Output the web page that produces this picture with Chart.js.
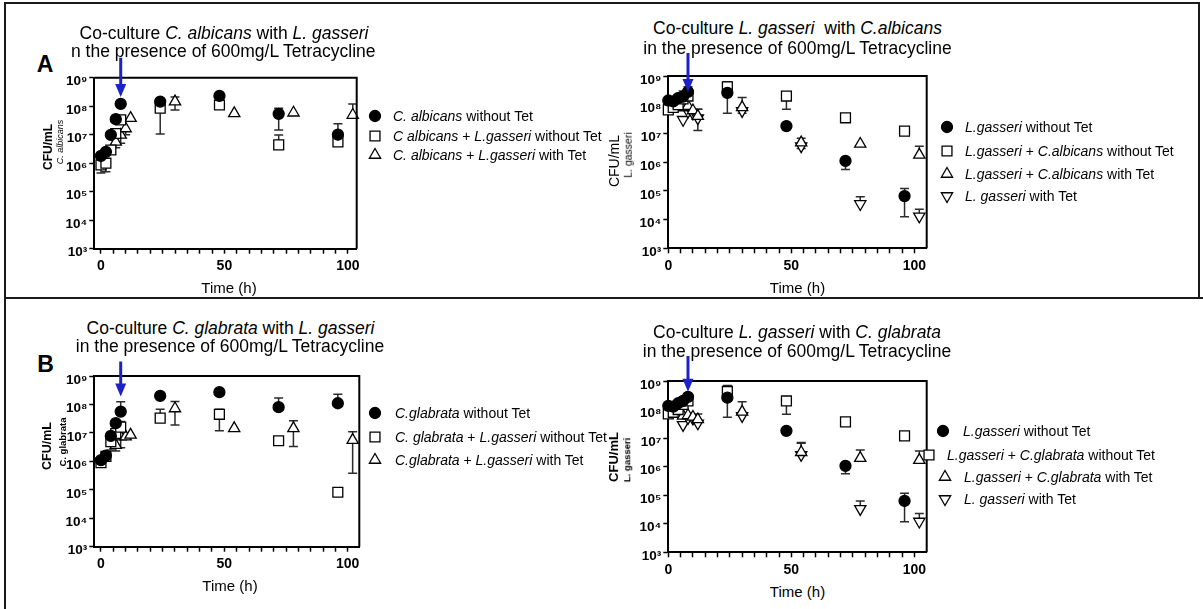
<!DOCTYPE html>
<html>
<head>
<meta charset="utf-8">
<script src="https://cdn.jsdelivr.net/npm/chart.js@4.4.1/dist/chart.umd.min.js"></script>
<style>
  body { margin: 0; background: #fff; }
  #fig { position: relative; width: 1203px; height: 609px; overflow: hidden; font-family: "Liberation Sans", Arial, sans-serif; color: #000; }
  .t { position: absolute; white-space: nowrap; line-height: 1; }
  canvas { position: absolute; }
  .rule { position: absolute; background: #1a1a1a; }
</style>
</head>
<body>
<div id="fig"></div>
<script>
// sampling times (h)
const timeNoTet = [0, 2, 4, 6, 8, 24, 48, 72, 96]
const timeTet = [6, 8, 10, 12, 30, 54, 78, 102]

// A, left: C. albicans counts
const albNoTet = [1.8e6, 2.5e6, 9.8e6, 3.5e7, 1.2e8, 1.45e8, 2.3e8, 5.4e7, 1.0e7]
const albNoTetHi = [null, null, null, null, null, null, null, 8.5e7, 2.4e7]
const albNoTetLo = [null, null, null, null, null, null, null, 1.45e7, null]
const albLgNoTet = [8.7e5, 1.0e6, 2.9e6, 1.1e7, 3.3e7, 8.5e7, 1.1e8, 4.4e6, 5.6e6]
const albLgNoTetHi = [null, null, null, null, null, null, null, 9.8e6, null]
const albLgNoTetLo = [4.5e5, 5e5, null, null, null, 1.05e7, null, null, null]
const albLgTet = [5.6e6, 9.8e6, 1.65e7, 3.8e7, 1.45e8, 5.6e7, 5.9e7, 4.9e7]
const albLgTetHi = [null, null, null, null, 2.1e8, null, null, 1.2e8]
const albLgTetLo = [3.5e6, 5e6, 1e7, null, 7.4e7, null, null, null]

// A, right: L. gasseri counts
const lgaNoTet = [1.4e8, 1.3e8, 1.7e8, 1.9e8, 2.8e8, 2.6e8, 1.8e7, 1.1e6, 6.6e4]
const lgaNoTetHi = [null, null, null, null, 4.2e8, null, null, null, 1.2e5]
const lgaNoTetLo = [null, null, null, null, null, 5e7, null, 5.6e5, 1.25e4]
const lgCaNoTet = [6.6e7, 8e7, 1e8, 1.6e8, 2e8, 4.2e8, 2e8, 3.5e7, 1.2e7]
const lgCaNoTetHi = [null, null, null, 3e8, null, 6.3e8, null, null, null]
const lgCaNoTetLo = [null, null, null, null, null, null, 7e7, null, null]
const lgCaTet = [8e7, 9e7, 6.3e7, 4e7, 8.1e7, 4.8e6, 4.3e6, 1.8e6]
const lgCaTetHi = [null, null, null, 7e7, 1.8e8, 6.8e6, null, 3.6e6]
const lgCaTetLo = [null, null, null, null, null, null, null, null]
const lgaTet = [3e7, 5.8e7, 5e7, 3.4e7, 6.1e7, 3.6e6, 3.5e4, 1.3e4]
const lgaTetHi = [null, null, null, 7e7, null, null, 6.3e4, 2.3e4]
const lgaTetLo = [null, null, null, 1.26e7, 5e7, 3e6, null, null]

// B, left: C. glabrata counts
const glaNoTet = [1.1e6, 1.6e6, 7.8e6, 2.2e7, 5.6e7, 2e8, 2.7e8, 8e7, 1.1e8]
const glaNoTetHi = [null, null, null, null, 1.25e8, null, null, 1.7e8, 2.3e8]
const glaNoTetLo = [null, null, null, null, null, null, null, null, null]
const glaLgNoTet = [9e5, 1.5e6, 4.9e6, 9.5e6, 1.6e7, 3.3e7, 4.5e7, 5.3e6, 8.2e4]
const glaLgNoTetHi = [null, null, null, null, 2.5e7, 6.8e7, 6.8e7, null, null]
const glaLgNoTetLo = [null, null, 2.5e6, null, null, null, 1.2e7, null, null]
const glaLgTet = [3.7e6, 7.4e6, 7.4e6, 8.5e6, 7.2e7, 1.45e7, 1.45e7, 5.6e6]
const glaLgTetHi = [null, null, null, null, 1.26e8, null, 2.7e7, 1.1e7]
const glaLgTetLo = [2.3e6, 3e6, null, null, 1.9e7, null, 3.3e6, 3.8e5]

// B, right: L. gasseri counts
const lgbNoTet = [1.35e8, 1.26e8, 1.66e8, 2e8, 2.8e8, 2.6e8, 1.8e7, 1.07e6, 6.3e4]
const lgbNoTetHi = [null, null, null, null, null, null, null, null, 1.17e5]
const lgbNoTetLo = [null, null, null, null, null, 5.4e7, null, 5.6e5, 1.17e4]
const lgCgNoTet = [7e7, 8e7, 1e8, 1.5e8, 2e8, 4.3e8, 2e8, 3.7e7, 1.2e7]
const lgCgNoTetHi = [null, null, null, null, null, 6.9e8, null, null, null]
const lgCgNoTetLo = [null, null, null, null, null, null, 6.8e7, null, null]
const lgCgTet = [6e7, 6.3e7, 5.5e7, 4.5e7, 8.3e7, 3.2e6, 2e6, 1.7e6]
const lgCgTetHi = [null, null, null, 7e7, 1.86e8, 6.6e6, 3.8e6, 3.5e6]
const lgCgTetLo = [null, null, null, null, null, null, null, null]
const lgbTet = [2.9e7, 5.1e7, 4.9e7, 3.3e7, 6e7, 2.6e6, 3.3e4, 1.2e4]
const lgbTetHi = [null, null, null, null, null, 7e6, 6.3e4, 2.3e4]
const lgbTetLo = [null, null, null, null, null, null, null, null]

// axes
const xTickVals = [0, 5, 10, 15, 20, 25, 30, 35, 40, 45, 50, 55, 60, 65, 70, 75, 80, 85, 90, 95, 100]
const xLabelVals = [0, 50, 100]
const yTickVals = [1e3, 1e4, 1e5, 1e6, 1e7, 1e8, 1e9]
const sup = ["⁰", "¹", "²", "³", "⁴", "⁵", "⁶", "⁷", "⁸", "⁹"]

// legend text
const legendA1 = ["<i>C. albicans</i> without Tet", "<i>C albicans</i> + <i>L.gasseri</i> without Tet", "<i>C. albicans</i> + <i>L.gasseri</i> with Tet"]
const legendA2 = ["<i>L.gasseri</i> without Tet", "<i>L.gasseri</i> + <i>C.albicans</i> without Tet", "<i>L.gasseri</i> + <i>C.albicans</i> with Tet", "<i>L. gasseri</i> with Tet"]
const legendB1 = ["<i>C.glabrata</i> without Tet", "<i>C. glabrata</i> + <i>L.gasseri</i> without Tet", "<i>C.glabrata</i> + <i>L.gasseri</i> with Tet"]
const legendB2 = ["<i>L.gasseri</i> without Tet", "<i>L.gasseri</i> + <i>C.glabrata</i> without Tet", "<i>L.gasseri</i> + <i>C.glabrata</i> with Tet", "<i>L. gasseri</i> with Tet"]

const marks = {
    dot: { pointStyle: "circle", radius: 5.5, rotation: 0, fill: "#000" },
    box: { pointStyle: "rect", radius: 7, rotation: 0, fill: "#fff" },
    tri: { pointStyle: "triangle", radius: 6.5, rotation: 0, fill: "#fff" },
    inv: { pointStyle: "triangle", radius: 6.5, rotation: 180, fill: "#fff" }
}

const panels = [
    {
        area: { l: 94.3, t: 77.7, r: 356.7, b: 248.7 }, box: { x: 50, y: 40, w: 325, h: 240 },
        xMin: -2.7, xMax: 103.6, arrow: { at: 8, tip: 2.1e8, rise: 20 },
        series: [
            { times: timeNoTet, values: albNoTet, hi: albNoTetHi, lo: albNoTetLo, mark: "dot" },
            { times: timeNoTet, values: albLgNoTet, hi: albLgNoTetHi, lo: albLgNoTetLo, mark: "box" },
            { times: timeTet, values: albLgTet, hi: albLgTetHi, lo: albLgTetLo, mark: "tri" }
        ],
        legend: { labels: legendA1, rows: [116, 136, 155], markX: [375, 375, 375], textX: [393, 393, 393] },
        titles: [
            { html: "Co-culture <i>C. albicans</i> with <i>L. gasseri</i>", x: 224, y: 34 },
            { html: "n the presence of 600mg/L Tetracycline", x: 71, y: 52, left: true }
        ],
        yTitle: { main: "CFU/mL", mainCss: "font-weight:bold;font-size:12px", x: 48, y: 147, sub: "<i>C. albicans</i>", subCss: "font-size:9px", sx: 60, sy: 142 },
        xTitle: { x: 229, y: 287 }
    },
    {
        area: { l: 668.3, t: 76, r: 926.7, b: 248.3 }, box: { x: 624, y: 40, w: 325, h: 240 },
        xMin: 0, xMax: 105, arrow: { at: 8, tip: 2.8e8, rise: 23 },
        series: [
            { times: timeNoTet, values: lgaNoTet, hi: lgaNoTetHi, lo: lgaNoTetLo, mark: "dot" },
            { times: timeNoTet, values: lgCaNoTet, hi: lgCaNoTetHi, lo: lgCaNoTetLo, mark: "box" },
            { times: timeTet, values: lgCaTet, hi: lgCaTetHi, lo: lgCaTetLo, mark: "tri" },
            { times: timeTet, values: lgaTet, hi: lgaTetHi, lo: lgaTetLo, mark: "inv" }
        ],
        legend: { labels: legendA2, rows: [127, 151, 174, 196], markX: [947, 947, 947, 947], textX: [965, 965, 965, 965] },
        titles: [
            { html: "Co-culture <i>L. gasseri</i>&nbsp; with <i>C.albicans</i>", x: 797.5, y: 28.5 },
            { html: "in the presence of 600mg/L Tetracycline", x: 797.5, y: 48.5 }
        ],
        yTitle: { main: "CFU/mL", mainCss: "font-size:14px", x: 614, y: 161, sub: "L. gasseri", subCss: "font-size:10.5px", sx: 628, sy: 155 },
        xTitle: { x: 797.5, y: 287 }
    },
    {
        area: { l: 94.3, t: 376, r: 359.3, b: 546.7 }, box: { x: 50, y: 340, w: 325, h: 240 },
        xMin: -2.7, xMax: 104.7, arrow: { at: 8, tip: 1.9e8, rise: 14.5 },
        series: [
            { times: timeNoTet, values: glaNoTet, hi: glaNoTetHi, lo: glaNoTetLo, mark: "dot" },
            { times: timeNoTet, values: glaLgNoTet, hi: glaLgNoTetHi, lo: glaLgNoTetLo, mark: "box" },
            { times: timeTet, values: glaLgTet, hi: glaLgTetHi, lo: glaLgTetLo, mark: "tri" }
        ],
        legend: { labels: legendB1, rows: [413, 437, 460], markX: [375, 375, 375], textX: [395, 395, 395] },
        titles: [
            { html: "Co-culture <i>C. glabrata</i> with <i>L. gasseri</i>", x: 230.5, y: 328.5 },
            { html: "in the presence of 600mg/L Tetracycline", x: 230, y: 347 }
        ],
        yTitle: { main: "CFU/mL", mainCss: "font-weight:bold;font-size:12.5px", x: 46.5, y: 445.5, sub: "C. glabrata", subCss: "font-weight:bold;font-size:9.5px", sx: 62.5, sy: 442 },
        xTitle: { x: 230, y: 585 }
    },
    {
        area: { l: 668.3, t: 381, r: 926.7, b: 552.3 }, box: { x: 624, y: 340, w: 325, h: 240 },
        xMin: 0, xMax: 105, arrow: { at: 8, tip: 4.2e8, rise: 25 },
        series: [
            { times: timeNoTet, values: lgbNoTet, hi: lgbNoTetHi, lo: lgbNoTetLo, mark: "dot" },
            { times: timeNoTet, values: lgCgNoTet, hi: lgCgNoTetHi, lo: lgCgNoTetLo, mark: "box" },
            { times: timeTet, values: lgCgTet, hi: lgCgTetHi, lo: lgCgTetLo, mark: "tri" },
            { times: timeTet, values: lgbTet, hi: lgbTetHi, lo: lgbTetLo, mark: "inv" }
        ],
        legend: { labels: legendB2, rows: [431, 455, 477, 499], markX: [943, 929, 945, 945], textX: [963, 947, 964, 964] },
        titles: [
            { html: "Co-culture <i>L. gasseri</i> with <i>C. glabrata</i>", x: 797, y: 333 },
            { html: "in the presence of 600mg/L Tetracycline", x: 797, y: 352 }
        ],
        yTitle: { main: "CFU/mL", mainCss: "font-weight:bold;font-size:13px", x: 612.5, y: 457, sub: "L. gasseri", subCss: "font-weight:bold;font-size:9.5px", sx: 626.7, sy: 460 },
        xTitle: { x: 797.5, y: 591 }
    }
]

const fig = document.getElementById("fig")

const addText = (html, x, y, css = "", how = "center") => {
    const el = document.createElement("div")
    el.className = "t"
    el.innerHTML = html
    el.style.cssText = `left:${x}px;top:${y}px;${css}`
    if (how === "left") el.style.transform = "translate(0,-50%)"
    else if (how === "rot") el.style.transform = "translate(-50%,-50%) rotate(-90deg)"
    else el.style.transform = "translate(-50%,-50%)"
    fig.appendChild(el)
}

const addRule = (x, y, w, h) => {
    const el = document.createElement("div")
    el.className = "rule"
    el.style.cssText = `left:${x}px;top:${y}px;width:${w}px;height:${h}px`
    fig.appendChild(el)
}

const drawMark = (ctx, mark, x, y) => {
    const m = marks[mark]
    ctx.save()
    ctx.fillStyle = m.fill
    ctx.strokeStyle = "#000"
    ctx.lineWidth = 1.3
    if (Chart.helpers && Chart.helpers.drawPoint) {
        Chart.helpers.drawPoint(ctx, { pointStyle: m.pointStyle, rotation: m.rotation, radius: m.radius, borderWidth: 1.3 }, x, y)
    } else {
        ctx.beginPath()
        ctx.arc(x, y, m.radius, 0, Math.PI * 2)
        ctx.fill()
        ctx.stroke()
    }
    ctx.restore()
}

const framePlugin = {
    id: "frame",
    afterDatasetsDraw(chart) {
        const { ctx, chartArea: a } = chart
        ctx.save()
        ctx.strokeStyle = "#000"
        ctx.lineWidth = 2
        ctx.beginPath()
        ctx.moveTo(a.left, a.top)
        ctx.lineTo(a.right, a.top)
        ctx.lineTo(a.right, a.bottom)
        ctx.stroke()
        ctx.restore()
    }
}

const errorBarPlugin = {
    id: "errorBars",
    beforeDatasetsDraw(chart) {
        const { ctx, scales: { x, y } } = chart
        ctx.save()
        ctx.strokeStyle = "#2b2b2b"
        ctx.lineWidth = 1.5
        chart.data.datasets.forEach(ds => {
            ds.data.forEach((p, i) => {
                const px = x.getPixelForValue(p.x)
                const py = y.getPixelForValue(p.y)
                ;[ds.errHi[i], ds.errLo[i]].forEach(v => {
                    if (!v) return
                    const ey = y.getPixelForValue(v)
                    ctx.beginPath()
                    ctx.moveTo(px, py)
                    ctx.lineTo(px, ey)
                    ctx.moveTo(px - 4.5, ey)
                    ctx.lineTo(px + 4.5, ey)
                    ctx.stroke()
                })
            })
        })
        ctx.restore()
    }
}

const arrowPlugin = {
    id: "arrow",
    afterDatasetsDraw(chart, args, opts) {
        const { ctx, chartArea, scales: { x, y } } = chart
        const px = x.getPixelForValue(opts.at)
        const tip = y.getPixelForValue(opts.tip)
        const start = chartArea.top - opts.rise
        ctx.save()
        ctx.strokeStyle = "#1c22c8"
        ctx.fillStyle = "#1c22c8"
        ctx.lineWidth = 3
        ctx.beginPath()
        ctx.moveTo(px, start)
        ctx.lineTo(px, tip - 10)
        ctx.stroke()
        ctx.beginPath()
        ctx.moveTo(px - 5.5, tip - 13)
        ctx.lineTo(px + 5.5, tip - 13)
        ctx.lineTo(px, tip)
        ctx.closePath()
        ctx.fill()
        ctx.restore()
    }
}

const xTickFont = { family: "'Liberation Sans', Arial, sans-serif", size: 14, weight: "bold" }
const yTickFont = { family: "'Liberation Sans', Arial, sans-serif", size: 13.5, weight: "bold" }

const makePanel = (p) => {
    const canvas = document.createElement("canvas")
    canvas.width = p.box.w
    canvas.height = p.box.h
    canvas.style.left = p.box.x + "px"
    canvas.style.top = p.box.y + "px"
    fig.appendChild(canvas)

    const yw = p.area.l - p.box.x
    const xh = p.box.y + p.box.h - p.area.b
    const padTop = p.area.t - p.box.y
    const padRight = p.box.x + p.box.w - p.area.r

    const datasets = p.series.map(s => {
        const m = marks[s.mark]
        return {
            data: s.times.map((t, i) => ({ x: t, y: s.values[i] })),
            errHi: s.hi,
            errLo: s.lo,
            pointStyle: m.pointStyle,
            pointRotation: m.rotation,
            pointRadius: m.radius,
            backgroundColor: m.fill,
            borderColor: "#000",
            borderWidth: 1.3,
            clip: false
        }
    })

    new Chart(canvas, {
        type: "scatter",
        data: { datasets },
        options: {
            responsive: false,
            animation: false,
            events: [],
            layout: { padding: { left: 0, top: padTop, right: padRight, bottom: 0 } },
            plugins: {
                legend: { display: false },
                tooltip: { enabled: false },
                arrow: p.arrow
            },
            scales: {
                x: {
                    type: "linear",
                    min: p.xMin,
                    max: p.xMax,
                    afterBuildTicks: s => { s.ticks = xTickVals.map(v => ({ value: v })) },
                    afterFit: s => { s.height = xh; s.paddingLeft = 0; s.paddingRight = 0 },
                    grid: { drawOnChartArea: false, tickLength: 5, tickColor: "#000", tickWidth: 1.5 },
                    border: { color: "#000", width: 2 },
                    ticks: {
                        autoSkip: false,
                        maxRotation: 0,
                        padding: 4,
                        color: "#000",
                        font: xTickFont,
                        callback: v => xLabelVals.includes(v) ? String(v) : ""
                    }
                },
                y: {
                    type: "logarithmic",
                    min: 1e3,
                    max: 1e9,
                    afterBuildTicks: s => { s.ticks = yTickVals.map(v => ({ value: v })) },
                    afterFit: s => { s.width = yw; s.paddingTop = 0; s.paddingBottom = 0 },
                    grid: { drawOnChartArea: false, tickLength: 5, tickColor: "#000", tickWidth: 1.5 },
                    border: { color: "#000", width: 2 },
                    ticks: {
                        autoSkip: false,
                        padding: 2,
                        labelOffset: 4,
                        color: "#000",
                        font: yTickFont,
                        callback: v => "10" + sup[Math.round(Math.log10(v))]
                    }
                }
            }
        },
        plugins: [errorBarPlugin, framePlugin, arrowPlugin]
    })

    p.titles.forEach(t => addText(t.html, t.x, t.y, "font-size:17.5px", t.left ? "left" : "center"))
    addText(p.yTitle.main, p.yTitle.x, p.yTitle.y, p.yTitle.mainCss, "rot")
    addText(p.yTitle.sub, p.yTitle.sx, p.yTitle.sy, p.yTitle.subCss, "rot")
    addText("Time (h)", p.xTitle.x, p.xTitle.y, "font-size:15px")

    p.legend.labels.forEach((label, i) => {
        const mc = document.createElement("canvas")
        mc.width = 20
        mc.height = 20
        mc.style.left = (p.legend.markX[i] - 10) + "px"
        mc.style.top = (p.legend.rows[i] - 10) + "px"
        fig.appendChild(mc)
        drawMark(mc.getContext("2d"), p.series[i].mark, 10, 10)
        addText(label, p.legend.textX[i], p.legend.rows[i], "font-size:14px", "left")
    })
}

// figure frame
addRule(4, 2, 1196, 2)
addRule(4, 2, 2, 607)
addRule(1198, 2, 2, 297)
addRule(4, 297, 1199, 2)

addText("A", 45, 63.5, "font-weight:bold;font-size:23px")
addText("B", 45.5, 363.5, "font-weight:bold;font-size:23px")

panels.forEach(makePanel)
</script>
</body>
</html>
